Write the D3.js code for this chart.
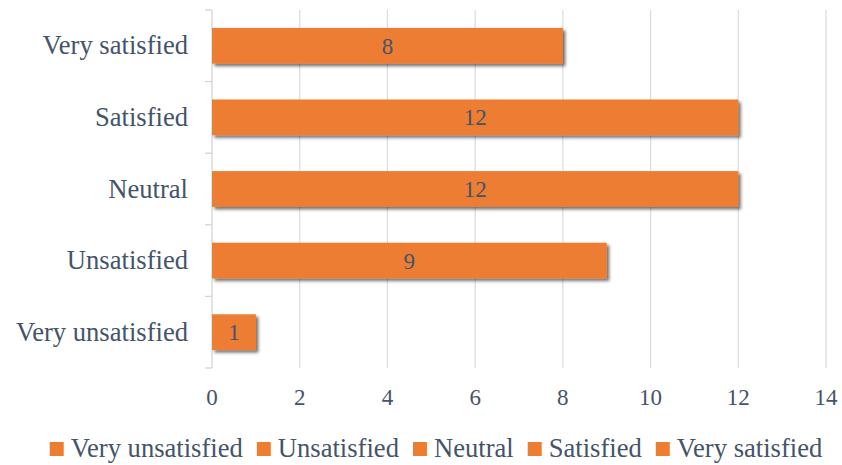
<!DOCTYPE html>
<html>
<head>
<meta charset="utf-8">
<script src="https://cdn.jsdelivr.net/npm/d3@7"></script>
<style>
  html, body { margin: 0; padding: 0; background: #fff; }
  svg { display: block; }
</style>
</head>
<body>
<svg id="chart" width="842" height="465" font-family="'Liberation Serif', Tinos, 'Times New Roman', serif"></svg>
<script>
const categories = ["Very unsatisfied", "Unsatisfied", "Neutral", "Satisfied", "Very satisfied"];
const values = [1, 9, 12, 12, 8];
const xTicks = [0, 2, 4, 6, 8, 10, 12, 14];
const legendLabels = ["Very unsatisfied", "Unsatisfied", "Neutral", "Satisfied", "Very satisfied"];

const barColor = "#ED7D31";
const gridColor = "#D9DEE6";
const axisColor = "#D0D5DD";
const textColor = "#44546A";
const FONT = "'Liberation Serif', Tinos, 'Times New Roman', serif";

const svg = d3.select("#chart");
const mLeft = 212, mRight = 826, mTop = 10, mBottom = 368;

const defs = svg.append("defs");
const f = defs.append("filter").attr("id", "shadow")
  .attr("x", "-10%").attr("y", "-20%").attr("width", "130%").attr("height", "160%");
f.append("feDropShadow").attr("dx", 2.5).attr("dy", 2.5).attr("stdDeviation", 1.8)
  .attr("flood-color", "#000").attr("flood-opacity", 0.55);

const x = d3.scaleLinear().domain([0, 14]).range([mLeft, mRight]);
const y = d3.scaleBand().domain(categories.slice().reverse()).range([mTop, mBottom])
  .paddingInner(0.5).paddingOuter(0.25);

// gridlines
svg.append("g").selectAll("line").data(xTicks.filter(d => d > 0)).join("line")
  .attr("x1", d => x(d)).attr("x2", d => x(d))
  .attr("y1", mTop).attr("y2", mBottom)
  .attr("stroke", gridColor).attr("stroke-width", 1.3);

// left axis line and category boundary ticks
svg.append("line").attr("x1", mLeft).attr("x2", mLeft).attr("y1", mTop).attr("y2", mBottom)
  .attr("stroke", axisColor).attr("stroke-width", 1.3);
const boundaries = d3.range(categories.length + 1).map(i => mTop + i * (mBottom - mTop) / categories.length);
svg.append("g").selectAll("line").data(boundaries).join("line")
  .attr("x1", mLeft - 7).attr("x2", mLeft).attr("y1", d => d).attr("y2", d => d)
  .attr("stroke", axisColor).attr("stroke-width", 1.3);

// bars
svg.append("g").selectAll("rect").data(categories).join("rect")
  .attr("x", x(0))
  .attr("y", d => y(d))
  .attr("width", (d, i) => x(values[i]) - x(0))
  .attr("height", y.bandwidth())
  .attr("fill", barColor)
  .attr("filter", "url(#shadow)");

function styleText(sel, size) {
  return sel.attr("font-family", FONT).style("font-family", FONT)
    .attr("font-size", size).attr("fill", textColor);
}

// bar labels
styleText(svg.append("g").selectAll("text").data(categories).join("text"), 23)
  .attr("x", (d, i) => (x(0) + x(values[i])) / 2)
  .attr("y", d => y(d) + y.bandwidth() / 2 + 8)
  .attr("text-anchor", "middle")
  .text((d, i) => values[i]);

// category labels
styleText(svg.append("g").selectAll("text").data(categories).join("text"), 26.6)
  .attr("x", 188)
  .attr("y", d => y(d) + y.bandwidth() / 2 + 8.5)
  .attr("text-anchor", "end")
  .text(d => d);

// x tick labels
styleText(svg.append("g").selectAll("text").data(xTicks).join("text"), 23)
  .attr("x", d => x(d))
  .attr("y", 405)
  .attr("text-anchor", "middle")
  .text(d => d);

// legend
const lg = svg.append("g");
const items = lg.selectAll("g").data(legendLabels).join("g");
items.append("rect").attr("width", 14).attr("height", 14).attr("y", -15).attr("fill", barColor);
styleText(items.append("text"), 26.6).attr("x", 21).attr("y", 0).text(d => d);
let cx = 0;
items.each(function() {
  const g = d3.select(this);
  const w = g.select("text").node().getComputedTextLength();
  g.attr("transform", `translate(${cx},0)`);
  cx += 21 + w + 14;
});
const totalW = cx - 14;
lg.attr("transform", `translate(${436 - totalW / 2},457)`);
</script>
</body>
</html>
